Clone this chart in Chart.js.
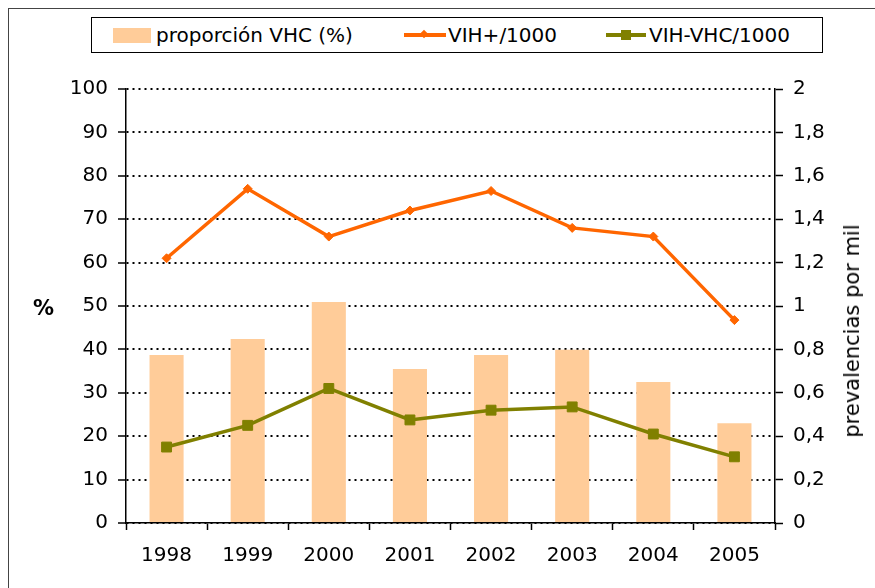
<!DOCTYPE html>
<html>
<head>
<meta charset="utf-8">
<script src="https://cdn.jsdelivr.net/npm/chart.js@4.4.1/dist/chart.umd.min.js"></script>
<style>
  html, body { margin: 0; padding: 0; background: #fff; }
  #wrap { position: relative; width: 875px; height: 588px; overflow: hidden; background: #fff; font-family: "DejaVu Sans", sans-serif; color: #000; }
  #frame { position: absolute; left: 8px; top: 8px; width: 1000px; height: 1000px; border-left: 1.5px solid #444; border-top: 1.5px solid #444; }
  canvas { position: absolute; left: 0; top: 0; }
  #legend { position: absolute; left: 91px; top: 17px; width: 730px; height: 34px; border: 1px solid #000; background: #fff; }
  .lg { position: absolute; top: 0; height: 34px; font-size: 20px; line-height: 34px; white-space: nowrap; }
  .sw { position: absolute; }
  #pct { position: absolute; left: 33px; top: 296px; font-size: 21px; font-weight: bold; }
  #rtitle { position: absolute; left: 852px; top: 331px; font-size: 21px; white-space: nowrap; transform: translate(-50%, -50%) rotate(-90deg); }
</style>
</head>
<body>
<div id="wrap">
  <div id="frame"></div>
  <canvas id="c" width="875" height="588"></canvas>
  <div id="legend">
    <div class="sw" style="left:21px;top:10px;width:38px;height:15px;background:#FFCC99;"></div>
    <div class="lg" style="left:64px;">proporción VHC (%)</div>
    <div class="sw" style="left:312px;top:15px;width:42px;height:4px;background:#FF6600;"></div>
    <div class="sw" style="left:329px;top:13px;width:6px;height:6px;background:#FF6600;transform:rotate(45deg);"></div>
    <div class="lg" style="left:356px;">VIH+/1000</div>
    <div class="sw" style="left:514px;top:15px;width:40px;height:4px;background:#808000;"></div>
    <div class="sw" style="left:529px;top:12px;width:10px;height:10px;background:#808000;"></div>
    <div class="lg" style="left:557px;">VIH-VHC/1000</div>
  </div>
  <div id="pct">%</div>
  <div id="rtitle">prevalencias por mil</div>
</div>
<script>
const categories = ['1998', '1999', '2000', '2001', '2002', '2003', '2004', '2005'];
const proporcionVHC = [38.7, 42.4, 50.9, 35.5, 38.7, 39.9, 32.5, 23.0];
const vihPos = [1.22, 1.54, 1.32, 1.44, 1.53, 1.36, 1.32, 0.935];
const vihVhc = [0.35, 0.45, 0.62, 0.475, 0.52, 0.535, 0.41, 0.305];
const leftAxis = { min: 0, max: 100, step: 10 };
const rightAxis = { min: 0, max: 2, step: 0.2 };

const FONT = { family: 'DejaVu Sans', size: 20 };

new Chart(document.getElementById('c'), {
  data: {
    labels: categories,
    datasets: [
      {
        type: 'line', label: 'VIH+/1000', data: vihPos, yAxisID: 'y2', order: 0,
        borderColor: '#FF6600', backgroundColor: '#FF6600', borderWidth: 3.5,
        pointStyle: 'rectRot', pointRadius: 4.5, pointBorderWidth: 1, tension: 0
      },
      {
        type: 'line', label: 'VIH-VHC/1000', data: vihVhc, yAxisID: 'y2', order: 0,
        borderColor: '#808000', backgroundColor: '#808000', borderWidth: 3.5,
        pointStyle: 'rect', pointRadius: 7, pointBorderWidth: 1, tension: 0
      },
      {
        type: 'bar', label: 'proporción VHC (%)', data: proporcionVHC, yAxisID: 'y', order: 1,
        backgroundColor: '#FFCC99', borderWidth: 0,
        barPercentage: 0.42, categoryPercentage: 1
      }
    ]
  },
  options: {
    responsive: false,
    animation: false,
    layout: { padding: { top: 89, left: 0, right: 0, bottom: 0 } },
    plugins: { legend: { display: false }, tooltip: { enabled: false } },
    scales: {
      x: {
        offset: true,
        afterFit: s => { s.height = 65; },
        grid: { display: true, drawOnChartArea: false, drawTicks: true, tickLength: 7, offset: true, color: '#000', tickColor: '#000', tickWidth: 1.5 },
        border: { display: true, color: '#000', width: 1.5 },
        ticks: { color: '#000', font: FONT, padding: 14, maxRotation: 0 }
      },
      y: {
        position: 'left', min: leftAxis.min, max: leftAxis.max,
        afterFit: s => { s.width = 126; },
        grid: { color: '#000', lineWidth: 2, tickLength: 8, tickColor: '#000', tickWidth: 1.5, tickBorderDash: [0, 0] },
        border: { display: true, color: '#000', width: 1.5, dash: [2, 4] },
        ticks: { stepSize: leftAxis.step, color: '#000', font: FONT, padding: 10 }
      },
      y2: {
        position: 'right', min: rightAxis.min, max: rightAxis.max,
        afterFit: s => { s.width = 100; },
        grid: { drawOnChartArea: false, tickLength: 8, color: '#000', tickColor: '#000', tickWidth: 1.5 },
        border: { display: true, color: '#000', width: 1.5 },
        ticks: {
          stepSize: rightAxis.step, color: '#000', font: FONT, padding: 10,
          callback: v => String(+Number(v).toFixed(1)).replace('.', ',')
        }
      }
    }
  }
});
</script>
</body>
</html>
